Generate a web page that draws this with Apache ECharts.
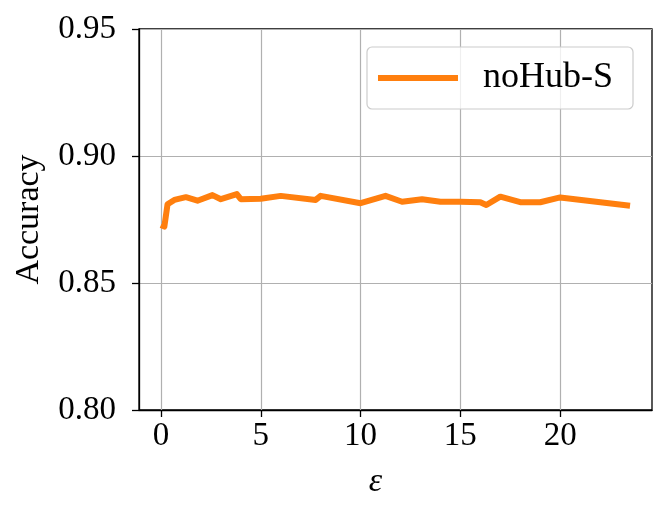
<!DOCTYPE html>
<html>
<head>
<meta charset="utf-8">
<script src="https://cdn.jsdelivr.net/npm/echarts@6/dist/echarts.min.js"></script>
<style>html,body{margin:0;padding:0;background:#fff}#c{width:667px;height:517px}</style>
</head>
<body>
<div id="c"></div>
<script>
var seriesName = 'noHub-S';
var epsValues = [0.0, 0.17, 0.33, 0.67, 1.25, 1.83, 2.58, 3.0, 3.8, 4.0, 5.0, 6.0, 7.75, 8.0, 10.0, 11.25, 12.08, 13.08, 14.0, 15.0, 16.0, 16.3, 17.0, 18.0, 19.0, 20.0, 23.5];
var accValues = [0.8728, 0.8722, 0.881, 0.8827, 0.8838, 0.8824, 0.8846, 0.883, 0.885, 0.883, 0.8832, 0.8843, 0.8827, 0.8843, 0.8814, 0.8843, 0.882, 0.883, 0.882, 0.882, 0.8818, 0.8807, 0.884, 0.8818, 0.8818, 0.8837, 0.8804];
var xTicks = [0, 5, 10, 15, 20];
var yTicks = [0.80, 0.85, 0.90, 0.95];

var font = 'Liberation Serif';
var chart = echarts.init(document.getElementById('c'), null, {renderer: 'canvas'});
var data = epsValues.map(function (x, i) { return [x, accValues[i]]; });
chart.setOption({
  animation: false,
  backgroundColor: '#fff',
  grid: {left: 139, right: 15, top: 29, bottom: 107, containLabel: false, outerBoundsMode: 'none', show: true, borderColor: '#000', borderWidth: 1.3, backgroundColor: 'transparent'},
  legend: {
    show: true,
    right: 34, top: 47,
    data: [{name: seriesName, icon: 'rect'}],
    itemWidth: 80, itemHeight: 6,
    padding: [13, 20, 13, 11],
    backgroundColor: 'rgba(255,255,255,0.8)',
    borderColor: '#cccccc', borderWidth: 1.2, borderRadius: 5,
    textStyle: {fontFamily: font, fontSize: 36, color: '#000', padding: [0, 0, 0, 20]}
  },
  xAxis: {
    type: 'value', min: -1.1, max: 24.6,
    name: 'ε', nameLocation: 'middle', nameGap: 55,
    nameTextStyle: {fontFamily: font, fontSize: 34, fontStyle: 'italic', color: '#000', padding: [0, 40, 0, 0]},
    axisLine: {show: true, onZero: false, lineStyle: {color: '#000', width: 1.3}},
    axisTick: {show: true, length: 7, lineStyle: {color: '#000', width: 1.3}, customValues: xTicks},
    axisLabel: {fontFamily: font, fontSize: 33, color: '#000', margin: 10, customValues: xTicks},
    splitLine: {show: false}
  },
  yAxis: {
    type: 'value', min: 0.80, max: 0.95, interval: 0.05,
    name: 'Accuracy', nameLocation: 'middle', nameGap: 93, nameRotate: 90,
    nameTextStyle: {fontFamily: font, fontSize: 34, color: '#000'},
    axisLine: {show: true, onZero: false, lineStyle: {color: '#000', width: 1.3}},
    axisTick: {show: true, length: 7, lineStyle: {color: '#000', width: 1.3}},
    axisLabel: {fontFamily: font, fontSize: 33, color: '#000', margin: 23, formatter: function (v) { return v.toFixed(2); }},
    splitLine: {show: true, lineStyle: {color: '#b0b0b0', width: 1.2}}
  },
  series: [{
    name: seriesName,
    type: 'line',
    data: data,
    showSymbol: false,
    symbol: 'none',
    z: 3,
    lineStyle: {color: '#ff7f0e', width: 6, join: 'round', cap: 'butt'},
    itemStyle: {color: '#ff7f0e'},
    markLine: {
      silent: true, symbol: 'none', z: 1, animation: false,
      label: {show: false},
      lineStyle: {color: '#b0b0b0', width: 1.2, type: 'solid'},
      data: xTicks.map(function (v) { return {xAxis: v}; })
    }
  }]
});
</script>
</body>
</html>
